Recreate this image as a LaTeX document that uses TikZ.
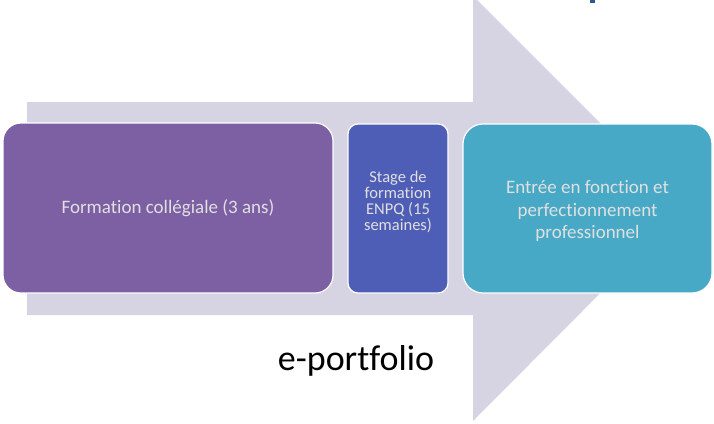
\documentclass[tikz,border=0pt]{standalone}
\usepackage{fontspec}
\setmainfont{Carlito}[Ligatures=NoCommon]
\definecolor{arrowgray}{HTML}{D6D4E2}
\definecolor{boxpurple}{HTML}{7D5FA3}
\definecolor{boxblue}{HTML}{4E5DB6}
\definecolor{boxcyan}{HTML}{47A9C6}
\definecolor{titleblue}{HTML}{2F5597}
\tikzset{
  stagebox/.style={draw=white, line width=1.2pt, inner sep=0pt, align=center,
    text=white!88!black, font=\fontsize{19}{23}\selectfont},
  stagetextstyle/.style={align=center, inner sep=0pt, text=white!88!black},
}
\begin{document}
\begin{tikzpicture}[x=1pt,y=-1pt]
\useasboundingbox (0,0) rectangle (714,423);
\begin{scope}
\clip (0,0) rectangle (714,423);
\fill[arrowgray] (27,102) -- (473,102) -- (473,-4) -- (685,208) -- (473,421) -- (473,315) -- (27,315) -- cycle;
\fill[titleblue] (590,-1) rectangle (595,3);
\end{scope}
\node[stagebox, fill=boxpurple, rounded corners=18pt, minimum width=330pt, minimum height=170pt] (college) at (168,208) {Formation collégiale (3 ans)};
\node[stagebox, fill=boxblue, rounded corners=10pt, minimum width=100pt, minimum height=169pt] (stage) at (398,208.5) {};
\node[stagetextstyle, font=\fontsize{16.5}{16}\selectfont] (stagetext) at (398,201.5) {Stage de\\formation\\ENPQ (15\\semaines)};
\node[stagebox, fill=boxcyan, rounded corners=20pt, minimum width=249pt, minimum height=169pt] (emploi) at (587.5,208.5) {};
\node[stagetextstyle, font=\fontsize{19}{22.5}\selectfont] (emploitext) at (587.5,211) {Entrée en fonction et\\perfectionnement\\professionnel};
\node[anchor=base, font=\fontsize{36}{40}\selectfont, text=black, inner sep=0pt] (eport) at (356,370) {e-portfolio};
\end{tikzpicture}
\end{document}
